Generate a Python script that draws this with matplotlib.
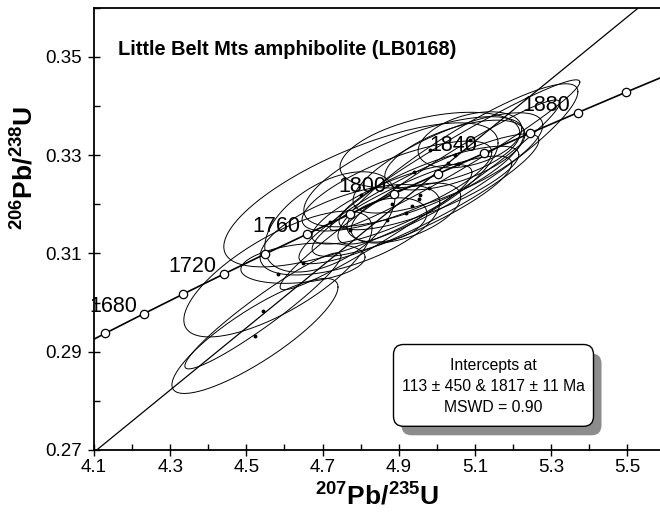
import numpy as np
import matplotlib
matplotlib.use("Agg")
import matplotlib.pyplot as plt
from matplotlib.patches import FancyBboxPatch
from matplotlib.ticker import MultipleLocator, FormatStrFormatter

plt.rcParams['font.family'] = ['Liberation Sans', 'DejaVu Sans']
plt.rcParams['mathtext.fontset'] = 'custom'
plt.rcParams['mathtext.rm'] = 'Liberation Sans'
plt.rcParams['mathtext.bf'] = 'Liberation Sans:bold'

# concordia: age (Ma), 207Pb/235U, 206Pb/238U
conc_age = [1640, 1660, 1680, 1700, 1720, 1740, 1760, 1780, 1800,
            1820, 1840, 1860, 1880, 1900, 1920]
conc_x = [4.0287, 4.1287, 4.2307, 4.3348, 4.4409, 4.5491, 4.6595, 4.7721,
          4.8869, 5.0040, 5.1234, 5.2452, 5.3695, 5.4962, 5.6254]
conc_y = [0.28969, 0.29370, 0.29772, 0.30175, 0.30580, 0.30986, 0.31393,
          0.31801, 0.32210, 0.32621, 0.33033, 0.33447, 0.33861, 0.34277,
          0.34695]
label_ages = [1680, 1720, 1760, 1800, 1840, 1880]

# discordia: lower (113 Ma) and upper (1817 Ma) intercepts
lower_int = (0.1177, 0.0177)
upper_int = (4.9863, 0.3256)

# error ellipses: centre, half-extent in x and y, correlation
ell_x = [4.8008, 4.8953, 4.8822, 4.9189, 4.9346, 4.9399, 4.9530, 4.9793,
         5.0291, 5.0554, 5.0475, 5.0869, 4.8690, 4.7719, 4.7194, 4.6486,
         4.5829, 4.5436, 4.5226, 4.9556, 5.0475, 4.9819]
ell_y = [0.3219, 0.3237, 0.3200, 0.3182, 0.3196, 0.3266, 0.3211, 0.3233,
         0.3284, 0.3282, 0.3300, 0.3331, 0.3168, 0.3148, 0.3164, 0.3080,
         0.3058, 0.2983, 0.2932, 0.3219, 0.3300, 0.3310]
ell_sx = [0.360, 0.249, 0.210, 0.144, 0.262, 0.289, 0.315, 0.236,
          0.249, 0.315, 0.184, 0.136, 0.105, 0.236, 0.171, 0.163,
          0.247, 0.205, 0.218, 0.367, 0.328, 0.236]
ell_sy = [0.01465, 0.00915, 0.0081, 0.0061, 0.0102, 0.0112, 0.0132, 0.0085,
          0.0102, 0.0163, 0.0071, 0.0057, 0.0045, 0.0092, 0.0102, 0.0041,
          0.0128, 0.0118, 0.0117, 0.0193, 0.0153, 0.0077]
ell_rho = [0.72, 0.75, 0.80, 0.55, 0.85, 0.70, 0.90, 0.80,
           0.75, 0.90, 0.60, 0.40, 0.30, 0.60, 0.50, 0.30,
           0.73, 0.95, 0.85, 0.97, 0.97, 0.45]

x_ticks = [4.1, 4.3, 4.5, 4.7, 4.9, 5.1, 5.3, 5.5]
y_ticks = [0.27, 0.29, 0.31, 0.33, 0.35]

fig = plt.figure(figsize=(6.6, 5.12), dpi=100)
ax = fig.add_axes([0.1424, 0.1211, 0.8576, 0.8641])

t = np.linspace(0, 2 * np.pi, 240)
for cx, cy, sx, sy, r in zip(ell_x, ell_y, ell_sx, ell_sy, ell_rho):
    ex = cx + sx * np.cos(t)
    ey = cy + sy * (r * np.cos(t) + np.sqrt(1 - r * r) * np.sin(t))
    ax.plot(ex, ey, color='k', lw=0.7, zorder=2)
ax.plot(ell_x, ell_y, 'o', color='k', ms=1.8, zorder=3)

ax.axline(lower_int, upper_int, color='k', lw=0.9, zorder=3)

ax.plot(conc_x, conc_y, '-', color='k', lw=1.2, zorder=4)
ax.plot(conc_x, conc_y, 'o', mfc='white', mec='k', ms=6, mew=0.9, zorder=5)
for age in label_ages:
    i = conc_age.index(age)
    ax.annotate(str(age), (conc_x[i], conc_y[i]), xytext=(-7, 2),
                textcoords='offset pixels', ha='right', va='baseline',
                fontsize=15.5, zorder=6)

ax.set_xlim(4.1, 5.586)
ax.set_ylim(0.27, 0.36)
ax.set_xticks(x_ticks)
ax.set_yticks(y_ticks)
ax.xaxis.set_minor_locator(MultipleLocator(0.1))
ax.yaxis.set_minor_locator(MultipleLocator(0.01))
ax.xaxis.set_major_formatter(FormatStrFormatter('%.1f'))
ax.yaxis.set_major_formatter(FormatStrFormatter('%.2f'))
ax.tick_params(which='major', direction='inout', length=9, width=1,
               labelsize=13.5, colors='k')
ax.tick_params(axis='x', which='major', pad=2)
ax.tick_params(axis='y', which='major', pad=4)
ax.tick_params(which='minor', direction='in', length=4, width=1)
ax.spines['right'].set_visible(False)
for s in ['left', 'bottom', 'top']:
    ax.spines[s].set_linewidth(1.3)

ax.text(0.0424, 0.906, 'Little Belt Mts amphibolite (LB0168)',
        transform=ax.transAxes, fontsize=14.4, fontweight='bold', va='center')

fig.text(377 / 660, 2 / 512, r'$\mathbf{^{207}Pb/^{235}U}$', fontsize=19,
         ha='center', va='bottom')
fig.text(25 / 660, 0.672, r'$\mathbf{^{206}Pb/^{238}U}$', fontsize=19,
         ha='center', va='center', rotation=90)

# result box with shadow (inches)
shadow = FancyBboxPatch((4.015, 0.767), 2.0, 0.818,
                        boxstyle='round,pad=0,rounding_size=0.1',
                        transform=fig.dpi_scale_trans, facecolor='#8c8c8c',
                        edgecolor='none', zorder=8)
box = FancyBboxPatch((3.935, 0.857), 2.0, 0.818,
                     boxstyle='round,pad=0,rounding_size=0.1',
                     transform=fig.dpi_scale_trans, facecolor='white',
                     edgecolor='k', lw=1, zorder=9)
fig.patches.extend([shadow, box])
fig.text(493.5 / 660, 0.2455,
         'Intercepts at\n113 \u00b1 450 & 1817 \u00b1 11 Ma\nMSWD = 0.90',
         ha='center', va='center', fontsize=11.3, linespacing=1.5, zorder=10)

fig.savefig('out.png', dpi=100)
